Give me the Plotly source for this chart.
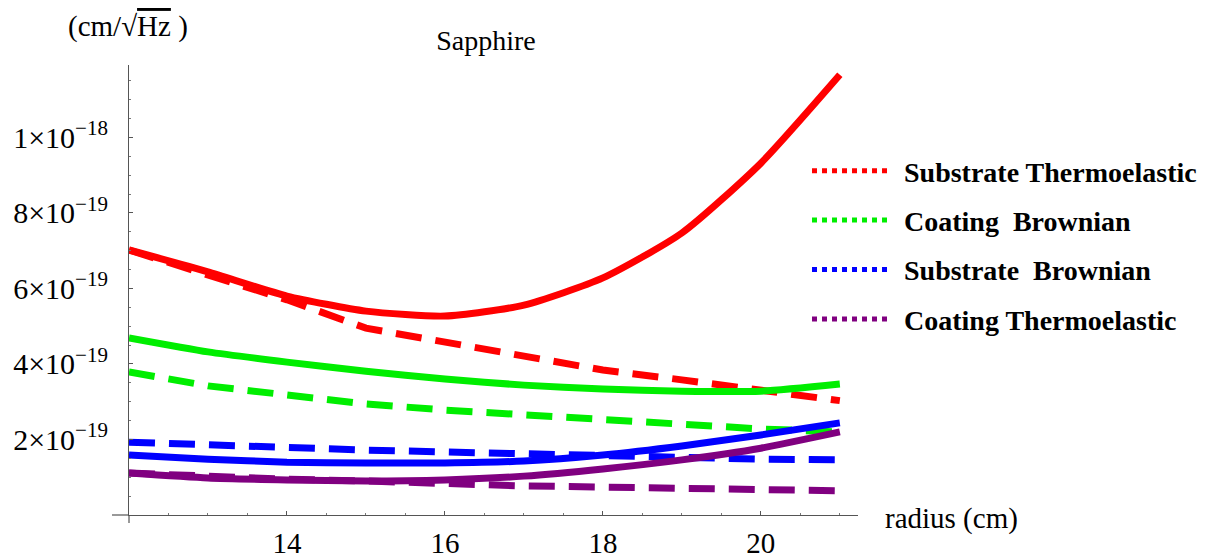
import plotly.graph_objects as go

# ---- data (values in units of 1e-19 cm/sqrt(Hz)) ----
SCALE = 1e-19
radius = [12, 13, 14, 15, 16, 17, 18, 19, 20, 21]

sub_thermo_solid = [7.02, 6.44, 5.80, 5.40, 5.27, 5.56, 6.28, 7.47, 9.32, 11.66]
sub_thermo_dash  = [7.02, 6.36, 5.70, 4.95, 4.58, 4.24, 3.84, 3.58, 3.31, 3.03]
coat_brown_solid = [4.69, 4.32, 4.05, 3.81, 3.60, 3.44, 3.34, 3.28, 3.28, 3.47]
coat_brown_dash  = [3.79, 3.42, 3.18, 2.94, 2.78, 2.65, 2.52, 2.41, 2.28, 2.20]
sub_brown_solid  = [1.59, 1.48, 1.40, 1.38, 1.38, 1.43, 1.59, 1.83, 2.12, 2.44]
sub_brown_dash   = [1.93, 1.85, 1.80, 1.72, 1.67, 1.62, 1.56, 1.54, 1.48, 1.46]
coat_thermo_solid = [1.11, 0.98, 0.93, 0.90, 0.93, 1.03, 1.22, 1.46, 1.77, 2.20]
coat_thermo_dash  = [1.11, 1.01, 0.95, 0.90, 0.82, 0.77, 0.74, 0.72, 0.69, 0.64]

legend_names = ["Substrate Thermoelastic", "Coating\u00a0 Brownian",
                "Substrate\u00a0 Brownian", "Coating Thermoelastic"]
colors = ["#ff0000", "#00ee00", "#0000ff", "#800080"]

x_tickvals = [14, 16, 18, 20]
y_tickvals = [2, 4, 6, 8, 10]
y_ticktext = ["2×10<sup>−19</sup>", "4×10<sup>−19</sup>", "6×10<sup>−19</sup>",
              "8×10<sup>−19</sup>", "1×10<sup>−18</sup>"]

series = [
    (sub_thermo_solid, sub_thermo_dash),
    (coat_brown_solid, coat_brown_dash),
    (sub_brown_solid, sub_brown_dash),
    (coat_thermo_solid, coat_thermo_dash),
]

FONT = "Liberation Serif"
fig = go.Figure()

for (solid, dash), col, name in zip(series, colors, legend_names):
    fig.add_trace(go.Scatter(x=radius, y=[v * SCALE for v in dash], mode="lines",
                             line=dict(color=col, width=7, dash="26px,14px"),
                             showlegend=False, hoverinfo="skip"))
    fig.add_trace(go.Scatter(x=radius, y=[v * SCALE for v in solid], mode="lines",
                             line=dict(color=col, width=7, shape="spline", smoothing=0.6),
                             showlegend=False, hoverinfo="skip"))

for i, (col, name) in enumerate(zip(colors, legend_names)):
    fig.add_trace(go.Scatter(x=[None], y=[None], mode="lines", name="\u00a0" + name,
                             legendgroup=f"g{i}",
                             line=dict(color=col, width=5, dash="5px,5px")))

W, H = 1217, 559
L, R, T, B = 129, 858, 65, 515
fig.update_layout(
    width=W, height=H,
    margin=dict(l=L, r=W - R, t=T, b=H - B, pad=0, autoexpand=False),
    plot_bgcolor="white", paper_bgcolor="white",
    font=dict(family=FONT, size=24, color="black"),
    showlegend=True,
    legend=dict(x=(807 - L) / (R - L), xanchor="left", y=(515 - 146) / (B - T),
                yanchor="top", bgcolor="rgba(0,0,0,0)",
                font=dict(family=FONT, size=28, color="black", weight="bold"),
                itemwidth=80, tracegroupgap=10, traceorder="grouped"),
    title=dict(text="Sapphire", x=486 / W, xanchor="center", xref="container",
               y=1 - 40 / H, yanchor="middle", yref="container",
               font=dict(family=FONT, size=28)),
)

fig.update_xaxes(range=[12, 21.23], showgrid=False, zeroline=False, automargin=False,
                 showline=True, linecolor="#555", linewidth=1.2,
                 tickmode="array", tickvals=x_tickvals,
                 ticks="inside", ticklen=4, tickcolor="#555",
                 tickfont=dict(family=FONT, size=29), ticklabelstandoff=2,
                 minor=dict(tickmode="linear", tick0=12, dtick=0.5, ticks="inside",
                            ticklen=2, tickcolor="#777", showgrid=False))
fig.update_yaxes(range=[0, 11.92 * SCALE], showgrid=False, zeroline=False, automargin=False,
                 showline=True, linecolor="#555", linewidth=1.2,
                 tickmode="array", tickvals=[v * SCALE for v in y_tickvals],
                 ticktext=y_ticktext,
                 ticks="inside", ticklen=4, tickcolor="#555",
                 tickfont=dict(family=FONT, size=30), ticklabelstandoff=14,
                 minor=dict(tickmode="linear", tick0=0, dtick=0.5 * SCALE, ticks="inside",
                            ticklen=2, tickcolor="#777", showgrid=False))

# axis overhangs (Mathematica-style crossing axes)
fig.add_shape(type="line", xref="paper", yref="paper",
              x0=(112 - L) / (R - L), x1=0, y0=0, y1=0,
              line=dict(color="#555", width=1.2))
fig.add_shape(type="line", xref="paper", yref="paper",
              x0=0, x1=0, y0=-(523 - B) / (B - T), y1=0,
              line=dict(color="#555", width=1.2))

fig.add_annotation(text="(cm/√<span style='text-decoration:overline'>Hz</span> )",
                   xref="paper", yref="paper",
                   x=(128 - L) / (R - L), y=(B - 27) / (B - T),
                   xanchor="center", yanchor="middle", showarrow=False,
                   font=dict(family=FONT, size=29))
fig.add_annotation(text="radius (cm)", xref="paper", yref="paper",
                   x=(883 - L) / (R - L), y=(B - 518) / (B - T),
                   xanchor="left", yanchor="middle", showarrow=False,
                   font=dict(family=FONT, size=29))

fig.write_html("out.html", config={"displayModeBar": False},
               post_script="document.body.style.margin='0';document.body.style.overflow='hidden';")
